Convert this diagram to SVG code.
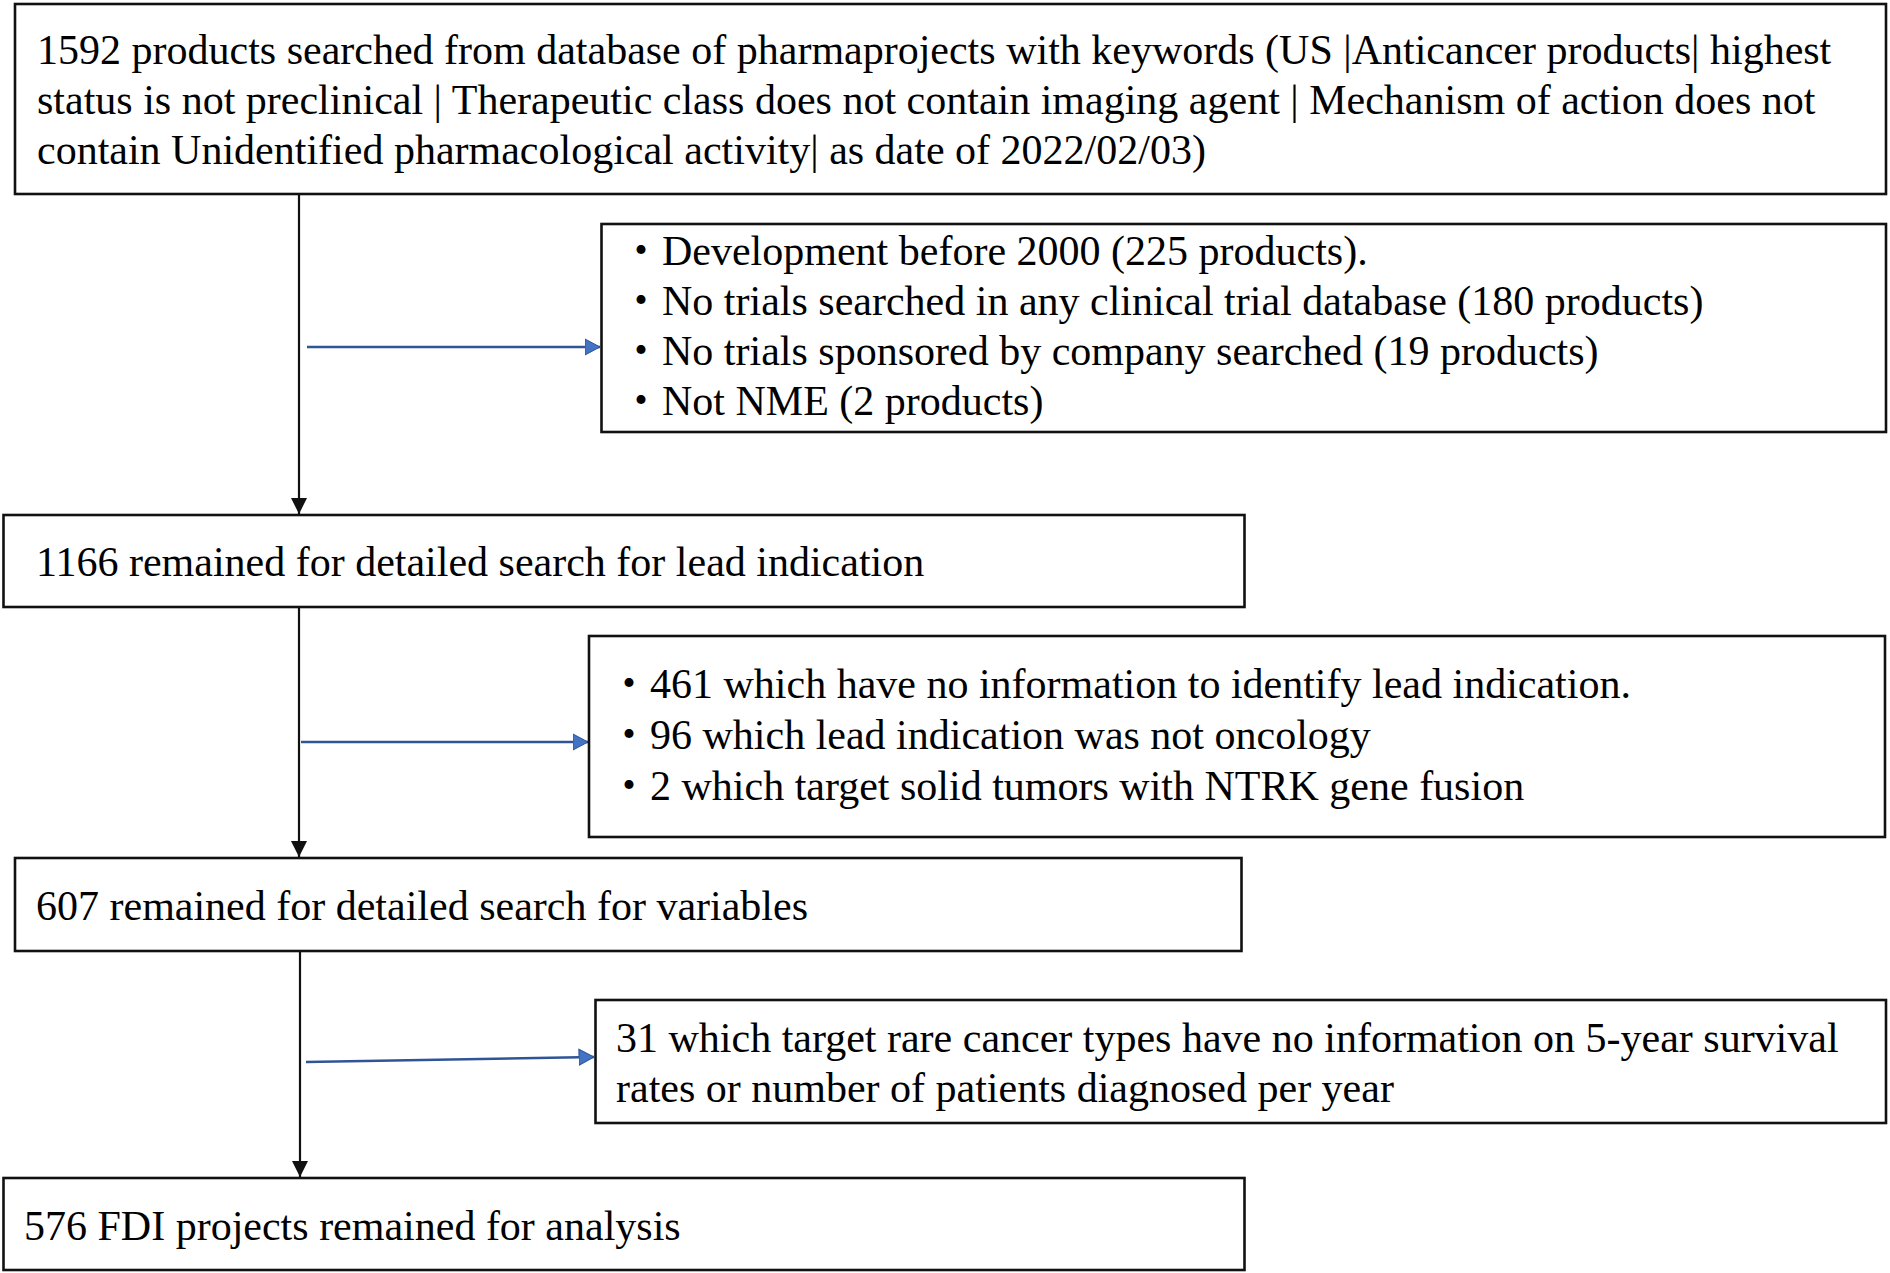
<svg xmlns="http://www.w3.org/2000/svg" width="1890" height="1273" viewBox="0 0 1890 1273">
<style>
  .box { fill: #ffffff; stroke: #111111; stroke-width: 2.6; }
  .t { font-family: "Liberation Serif", "Noto Sans CJK JP", serif; font-size: 42px; fill: #000000; }
  .main { fill: none; stroke: #111111; stroke-width: 2.2; }
  .side { fill: none; stroke: #2F5597; stroke-width: 2.6; }
</style>
<defs>
  <marker id="arrowBlack" markerUnits="userSpaceOnUse" viewBox="0 0 16 16" markerWidth="16" markerHeight="16" refX="16" refY="8" orient="auto">
    <path d="M0,0 L16,8 L0,16 z" fill="#111111"/>
  </marker>
  <marker id="arrowBlue" markerUnits="userSpaceOnUse" viewBox="0 0 16 18" markerWidth="16" markerHeight="18" refX="15.5" refY="9" orient="auto">
    <path d="M0.5,1 L15.5,9 L0.5,17 z" fill="#4472C4" stroke="#2F5597" stroke-width="1"/>
  </marker>
</defs>
<rect width="1890" height="1273" fill="#ffffff"/>

<g id="connectors">
  <line class="main" x1="299" y1="194" x2="299" y2="514" marker-end="url(#arrowBlack)"/>
  <line class="main" x1="299" y1="607" x2="299" y2="857" marker-end="url(#arrowBlack)"/>
  <line class="main" x1="300" y1="951" x2="300" y2="1177" marker-end="url(#arrowBlack)"/>
  <line class="side" x1="307" y1="347" x2="600" y2="347" marker-end="url(#arrowBlue)"/>
  <line class="side" x1="301" y1="742" x2="588" y2="742" marker-end="url(#arrowBlue)"/>
  <line class="side" x1="306" y1="1062" x2="594" y2="1057" marker-end="url(#arrowBlue)"/>
</g>

<g id="node-search">
  <rect class="box" x="15" y="4" width="1871" height="190"/>
  <text class="t" x="37" y="64">1592 products searched from database of pharmaprojects with keywords (US |Anticancer products| highest</text>
  <text class="t" x="37" y="114">status is not preclinical | Therapeutic class does not contain imaging agent | Mechanism of action does not</text>
  <text class="t" x="37" y="164">contain Unidentified pharmacological activity| as date of 2022/02/03)</text>
</g>

<g id="node-exclude1">
  <rect class="box" x="601.5" y="224" width="1284.5" height="208"/>
  <text class="t" x="620" y="265">・Development before 2000 (225 products).</text>
  <text class="t" x="620" y="315">・No trials searched in any clinical trial database (180 products)</text>
  <text class="t" x="620" y="365">・No trials sponsored by company searched (19 products)</text>
  <text class="t" x="620" y="415">・Not NME (2 products)</text>
</g>

<g id="node-lead">
  <rect class="box" x="3.5" y="515" width="1241" height="92"/>
  <text class="t" x="36" y="576">1166 remained for detailed search for lead indication</text>
</g>

<g id="node-exclude2">
  <rect class="box" x="589" y="636" width="1296" height="201"/>
  <text class="t" x="608" y="698">・461 which have no information to identify lead indication.</text>
  <text class="t" x="608" y="749">・96 which lead indication was not oncology</text>
  <text class="t" x="608" y="800">・2 which target solid tumors with NTRK gene fusion</text>
</g>

<g id="node-variables">
  <rect class="box" x="15" y="858" width="1226.5" height="93"/>
  <text class="t" x="36" y="920">607 remained for detailed search for variables</text>
</g>

<g id="node-exclude3">
  <rect class="box" x="595.5" y="1000" width="1290.5" height="123"/>
  <text class="t" x="616" y="1052">31 which target rare cancer types have no information on 5-year survival</text>
  <text class="t" x="616" y="1102">rates or number of patients diagnosed per year</text>
</g>

<g id="node-final">
  <rect class="box" x="3.5" y="1178" width="1241" height="92"/>
  <text class="t" x="24" y="1240">576 FDI projects remained for analysis</text>
</g>
</svg>
